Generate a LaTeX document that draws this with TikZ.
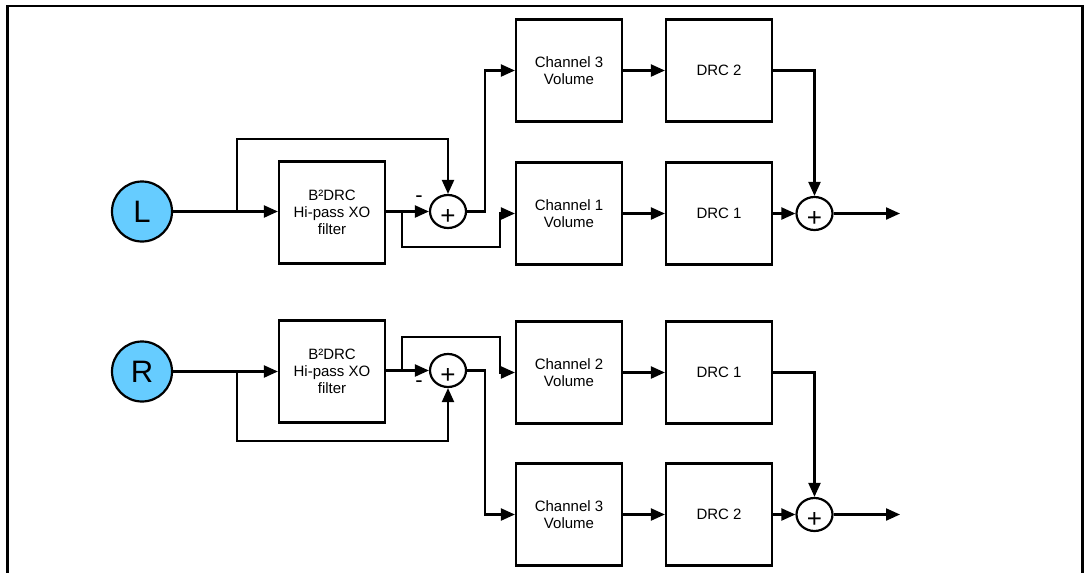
\documentclass[tikz,border=0pt]{standalone}
\usepackage{fontspec}
\setmainfont{Liberation Sans}
\usetikzlibrary{arrows.meta,shapes.geometric}
\definecolor{inblue}{RGB}{102,204,255}
\begin{document}
\begin{tikzpicture}[x=1pt,y=-1pt,
  line width=2.2pt,
  blk/.style={draw,rectangle,minimum width=106pt,minimum height=102pt,inner sep=0pt,align=center,font=\fontsize{15}{16.8}\selectfont},
  src/.style={draw,circle,fill=inblue,minimum size=60pt,inner sep=0pt,font=\fontsize{31}{31}\selectfont},
  sum/.style={draw,ellipse,minimum width=36pt,minimum height=33pt,inner sep=0pt,
    label={[inner sep=0pt,yshift=-5pt,font=\fontsize{26}{26}\selectfont]center:+}},
  arr/.style={-{Triangle[length=14pt,width=12pt]}},
  sgn/.style={inner sep=0pt,font=\fontsize{22}{22}\selectfont}]
\useasboundingbox (0,0) rectangle (1085,573);
% frame
\draw[line width=2.6pt] (7.7,575) -- (7.7,6) -- (1082.5,6) -- (1082.5,575);

% ---------- L path ----------
\node[src] (L) at (142,211.5) {L};
\node[blk] (filtL) at (332,212.5) {B²DRC\\Hi-pass XO\\filter};
\node[sum] (sumL) at (448,211.5) {};
\node[sgn] (mL) at (419,199) {-};
\node[blk] (ch3a) at (569,70.5) {Channel 3\\Volume};
\node[blk] (drc2a) at (719,70.5) {DRC 2};
\node[blk] (ch1) at (569,213.5) {Channel 1\\Volume};
\node[blk] (drc1a) at (719,213.5) {DRC 1};
\node[sum] (sumo1) at (814.5,213.5) {};
\coordinate (bL) at (237,211.5);
\coordinate (tL) at (237,139);
\coordinate (jL) at (402,211.5);
\coordinate (jL2) at (402,247);
\coordinate (jL3) at (500,247);
\coordinate (kL) at (485,211.5);
\coordinate (outL) at (900,213.5);

\draw[arr] (L.east) -- (L.east -| filtL.west);
\draw[arr] (bL) -- (tL) -| (sumL.north);
\draw[arr] (filtL.east |- sumL.west) -- (sumL.west);
\draw[arr] (jL) -- (jL2) -- (jL3) |- (ch1.west);
\draw[arr] (sumL.east) -- (kL) |- (ch3a.west);
\draw[arr] (ch3a) -- (drc2a);
\draw[arr] (ch1) -- (drc1a);
\draw[arr] (drc2a.east) -| (sumo1.north);
\draw[arr] (drc1a) -- (sumo1);
\draw[arr] (sumo1.east) -- (outL);

% ---------- R path ----------
\node[src] (R) at (142,371.5) {R};
\node[blk] (filtR) at (332,371.5) {B²DRC\\Hi-pass XO\\filter};
\node[sum] (sumR) at (448,370.5) {};
\node[sgn] (mR) at (419,384) {-};
\node[blk] (ch2) at (569,372.5) {Channel 2\\Volume};
\node[blk] (drc1b) at (719,372.5) {DRC 1};
\node[blk] (ch3b) at (569,514.5) {Channel 3\\Volume};
\node[blk] (drc2b) at (719,514.5) {DRC 2};
\node[sum] (sumo2) at (814.5,514.5) {};
\coordinate (bR) at (237,371.5);
\coordinate (tR) at (237,441);
\coordinate (jR) at (402,371.5);
\coordinate (jR2) at (402,337);
\coordinate (jR3) at (500,337);
\coordinate (kR) at (485,370.5);
\coordinate (outR) at (900,514.5);

\draw[arr] (R.east) -- (R.east -| filtR.west);
\draw[arr] (bR) -- (tR) -| (sumR.south);
\draw[arr] (filtR.east |- sumR.west) -- (sumR.west);
\draw[arr] (jR) -- (jR2) -- (jR3) |- (ch2.west);
\draw[arr] (sumR.east) -- (kR) |- (ch3b.west);
\draw[arr] (ch2) -- (drc1b);
\draw[arr] (ch3b) -- (drc2b);
\draw[arr] (drc1b.east) -| (sumo2.north);
\draw[arr] (drc2b) -- (sumo2);
\draw[arr] (sumo2.east) -- (outR);
\end{tikzpicture}
\end{document}
